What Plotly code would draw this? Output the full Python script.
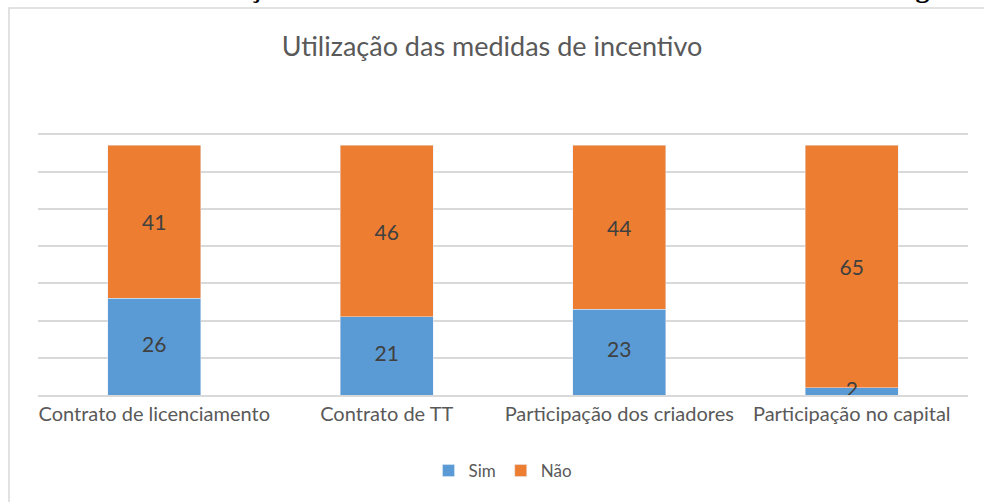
import plotly.graph_objects as go

categories = ["Contrato de licenciamento", "Contrato de TT", "Participação dos criadores", "Participação no capital"]
sim = [26, 21, 23, 2]
nao = [41, 46, 44, 65]

W, H = 984, 502
L, R, T, B = 38, 16, 97, 107
PW, PH = W - L - R, H - T - B

def px(x):
    return (x - L) / PW

def py(y):
    return (H - B - y) / PH

FONT = "Lato"
LABEL_FONT = dict(color="#404040", size=21, family=FONT)
fig = go.Figure()
fig.add_trace(go.Bar(name="Sim", x=categories, y=sim, marker_color="#5B9BD5"))
fig.add_trace(go.Bar(name="Não", x=categories, y=nao, marker_color="#ED7D31",
                     text=nao, textposition="inside", insidetextanchor="middle",
                     textfont=LABEL_FONT))
# "Sim" labels drawn on top (the small "2" overflows its segment as in the original)
fig.add_trace(go.Scatter(x=categories, y=[s / 2 for s in sim], text=sim, mode="text",
                         textposition="middle center", textfont=LABEL_FONT,
                         showlegend=False, cliponaxis=False, hoverinfo="skip"))

fig.update_layout(
    barmode="stack", bargap=0.6,
    width=W, height=H,
    margin=dict(l=L, r=R, t=T, b=B),
    paper_bgcolor="white", plot_bgcolor="white",
    font=dict(family=FONT, color="#595959"),
    uniformtext=dict(minsize=21, mode="show"),
    title=dict(text="Utilização das medidas de incentivo", x=0.5, xanchor="center",
               y=1 - 47 / H, yanchor="middle",
               font=dict(size=27, color="#595959", family=FONT)),
    legend=dict(orientation="h", x=0.5, xanchor="center", y=py(471), yanchor="middle",
                font=dict(size=17, color="#595959", family=FONT), traceorder="normal",
                itemwidth=30),
    xaxis=dict(showline=True, linecolor="#d9d9d9", linewidth=2, ticks="",
               tickfont=dict(size=20, color="#595959", family=FONT)),
    yaxis=dict(range=[0, 80], dtick=10, showticklabels=False, showgrid=True,
               gridcolor="#d9d9d9", gridwidth=1.5, zeroline=False),
    shapes=[dict(type="rect", xref="paper", yref="paper",
                 x0=px(9), x1=px(1000), y0=py(520), y1=py(8),
                 line=dict(color="#d9d9d9", width=1.5), fillcolor="rgba(0,0,0,0)", layer="below")],
    annotations=[dict(text="<b>Gráfico 27 – utilização das medidas relacionadas à transferência de tecnologia</b>",
                      xref="paper", yref="paper", x=px(18), y=py(5), xanchor="left", yanchor="bottom",
                      showarrow=False, font=dict(family="Liberation Serif", size=28, color="black"))],
)

fig.write_html("out.html", config={"displayModeBar": False},
               post_script="document.body.style.margin='0';document.body.style.overflow='hidden';")
